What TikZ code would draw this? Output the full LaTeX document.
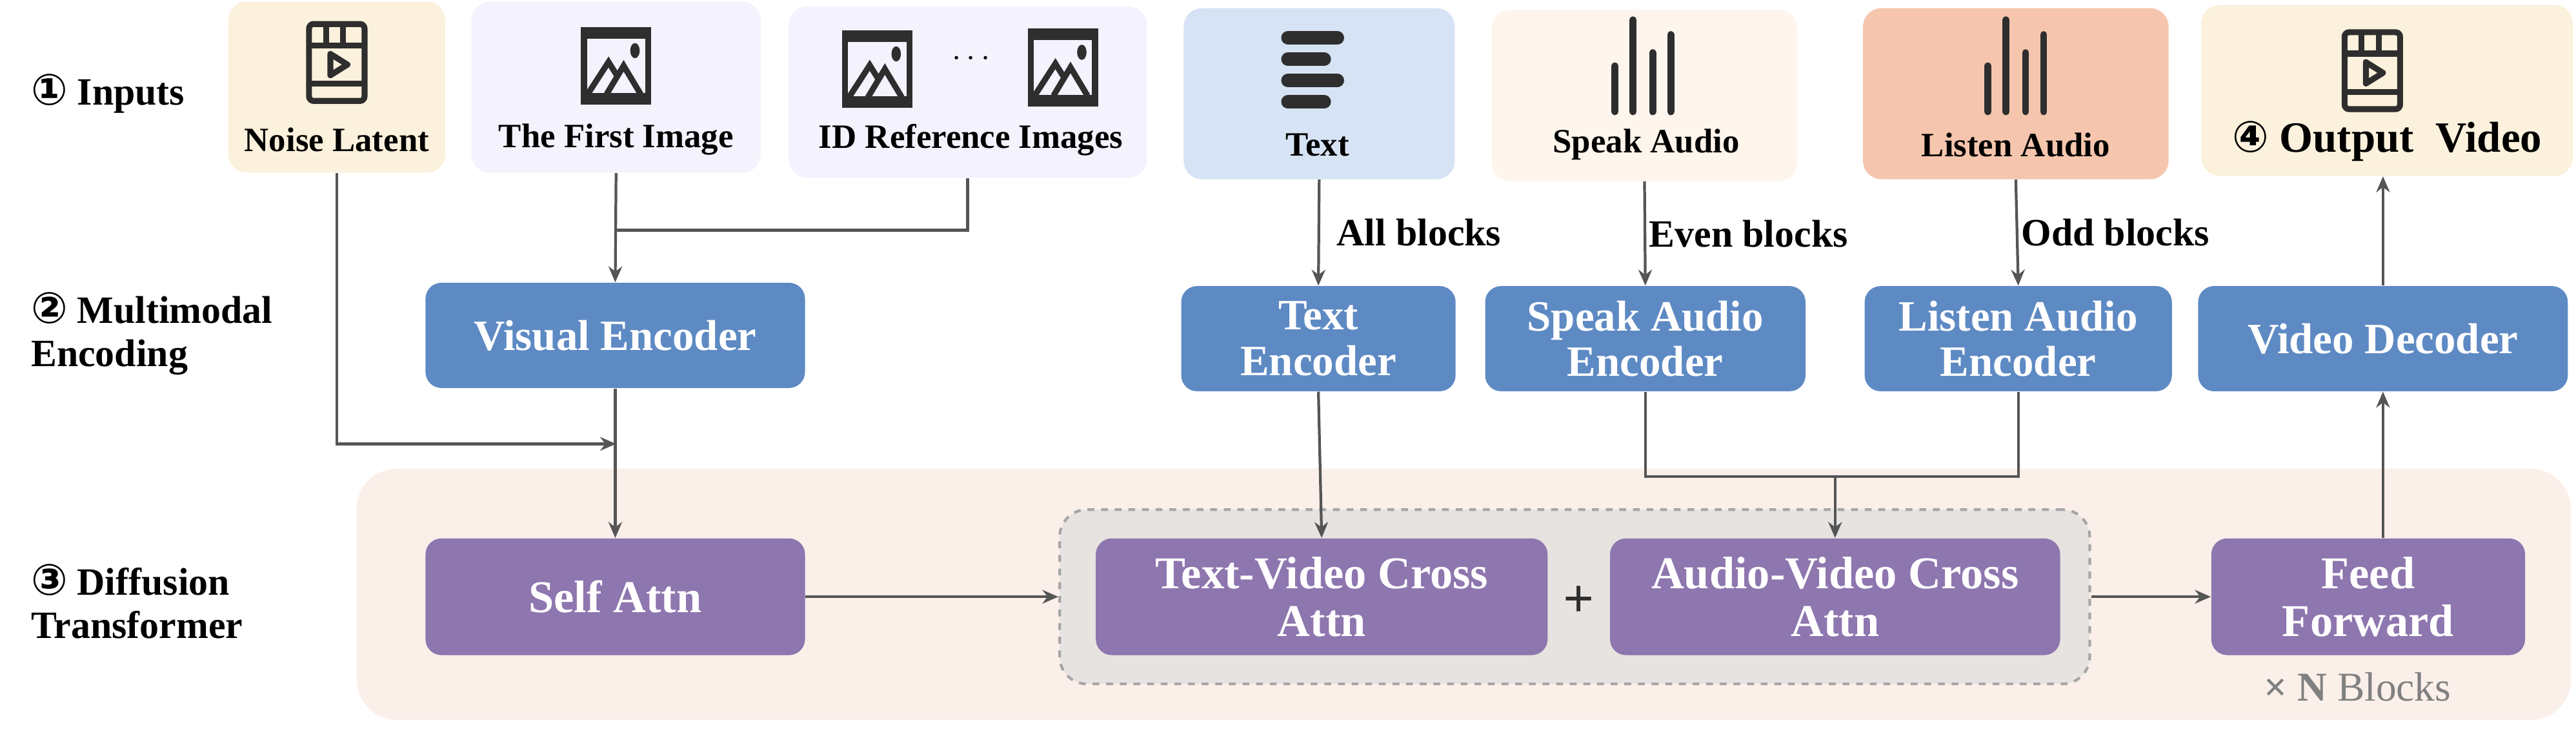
\documentclass[tikz,border=0pt]{standalone}
\usepackage{fontspec}
\setmainfont{Liberation Serif}
\newfontfamily\symfont{DejaVu Sans}
\usetikzlibrary{arrows.meta}
\definecolor{encblue}{HTML}{5E8AC4}
\definecolor{attnpurple}{HTML}{8E76AF}
\definecolor{latentbg}{HTML}{FBF1DC}
\definecolor{imagebg}{HTML}{F3F2FD}
\definecolor{textbg}{HTML}{D6E3F4}
\definecolor{speakbg}{HTML}{FEF5EC}
\definecolor{listenbg}{HTML}{F5C6AD}
\definecolor{ditbg}{HTML}{FBEFEA}
\definecolor{groupbg}{HTML}{E7E3E0}
\definecolor{linegray}{HTML}{555555}
\definecolor{icongray}{HTML}{2E2E2E}
\newcommand{\circnum}[1]{{\symfont\fontsize{19}{19}\selectfont #1}}
\tikzset{
  inbox/.style 2 args={draw=none,fill=#1,rounded corners=8pt,minimum width=#2*0.0254cm,minimum height=104*0.0254cm,inner sep=0pt},
  enc/.style={fill=encblue,rounded corners=7pt,text=white,font=\bfseries\fontsize{19}{20}\selectfont,align=center,minimum height=64*0.0254cm,inner sep=0pt},
  attn/.style={fill=attnpurple,rounded corners=7pt,text=white,font=\bfseries\fontsize{20}{21}\selectfont,align=center,minimum height=71*0.0254cm,inner sep=0pt},
  lbl/.style={font=\bfseries\fontsize{17}{19}\selectfont,align=left,anchor=west},
  inlbl/.style={font=\bfseries\fontsize{15}{17}\selectfont},
  blk/.style={font=\bfseries\fontsize{17}{18}\selectfont,anchor=west},
  conn/.style={draw=linegray,line width=1.2pt},
  arr/.style={conn,-{Stealth[length=7pt,width=6pt]}},
  ico/.style={icongray,line width=2.6pt}
}
% film icon
\newcommand{\filmicon}[1]{%
  \begin{scope}[shift={#1},scale=1.3]
    \draw[ico,rounded corners=2pt] (-13,-18) rectangle (13,18);
    \draw[ico] (-13,-8) -- (13,-8) (-13,10) -- (13,10);
    \draw[ico] (-5,-18) -- (-5,-8) (3,-18) -- (3,-8);
    \draw[ico,line join=round] (-3,-4) -- (5,1) -- (-3,6) -- cycle;
  \end{scope}}
% image icon
\newcommand{\imageicon}[1]{%
  \begin{scope}[shift={#1},scale=1.15]
    \draw[ico] (-17,-19) rectangle (17,19);
    \draw[ico] (-16,-16) -- (16,-16) (-16,16) -- (16,16);
    \draw[ico,line join=miter] (-15,15) -- (-4,-2) -- (1,6) (-5,15) -- (4,0) -- (13,15);
    \fill[icongray] (10,-8) ellipse (2.5 and 4);
  \end{scope}}
\begin{document}
\begin{tikzpicture}[x=0.0254cm,y=-0.0254cm]
  \useasboundingbox (0,0) rectangle (1568,450);

  % stage labels
  \node[lbl] (stI) at (14,57) {\circnum{①} Inputs};
  \node[lbl] (stII) at (14,203) {\circnum{②} Multimodal\\Encoding};
  \node[lbl] (stIII) at (14,366) {\circnum{③} Diffusion\\Transformer};

  % diffusion transformer background
  \fill[ditbg,rounded corners=18pt] (217,285) rectangle (1565,438);
  \node[fill=groupbg,draw=gray!70,dashed,line width=1.2pt,rounded corners=12pt,minimum width=627*0.0254cm,minimum height=106*0.0254cm] (group) at (958.5,363) {};

  % inputs
  \node[inbox={latentbg}{132}] (latent) at (205,53) {};
  \node[inbox={imagebg}{176}] (first) at (375,53) {};
  \node[inbox={imagebg}{218}] (idref) at (589,56) {};
  \node[inbox={textbg}{165}] (text) at (803,57) {};
  \node[inbox={speakbg}{186}] (speak) at (1001,58) {};
  \node[inbox={listenbg}{186}] (listen) at (1227,57) {};
  \node[inbox={latentbg}{226}] (output) at (1453,55) {};

  \filmicon{(205,38)}
  \imageicon{(375,40)}
  \imageicon{(534,42)}
  \imageicon{(647,41)}
  \node[inlbl] (dots) at (591,36) {$\cdots$};
  % text icon
  \foreach \yy/\ww in {23/15,36/11,49/15,62/11}
    \draw[icongray,line width=6pt,line cap=round] (784,\yy) -- (784+\ww+\ww,\yy);
  % audio icons
  \foreach \cx in {1000,1227}{
    \foreach \dx/\top in {-17/40,-6/12,6/32,17/21}
      \draw[icongray,line width=3pt,line cap=round] (\cx+\dx,\top) -- (\cx+\dx,68);
  }
  \filmicon{(1444,43)}

  \node[inlbl] at (205,85) {Noise Latent};
  \node[inlbl] at (375,85) {The First Image};
  \node[inlbl] at (591,85) {ID Reference Images};
  \node[inlbl] at (802,88) {Text};
  \node[inlbl] at (1002,88) {Speak Audio};
  \node[inlbl] at (1227,88) {Listen Audio};
  \node[font=\bfseries\fontsize{19}{20}\selectfont] at (1453,86) {\circnum{④} Output\ \ Video};

  % encoders
  \node[enc,minimum width=231*0.0254cm] (visenc) at (374.5,204) {Visual Encoder};
  \node[enc,minimum width=167*0.0254cm] (textenc) at (802.5,206) {Text\\Encoder};
  \node[enc,minimum width=195*0.0254cm] (speakenc) at (1001.5,206) {Speak Audio\\Encoder};
  \node[enc,minimum width=187*0.0254cm] (listenenc) at (1228.5,206) {Listen Audio\\Encoder};
  \node[enc,minimum width=225*0.0254cm] (viddec) at (1450.5,206) {Video Decoder};

  % attention blocks
  \node[attn,minimum width=231*0.0254cm] (selfattn) at (374.5,363) {Self Attn};
  \node[attn,minimum width=275*0.0254cm] (tvattn) at (804.5,363) {Text-Video Cross\\Attn};
  \node[attn,minimum width=274*0.0254cm] (avattn) at (1117,363) {Audio-Video Cross\\Attn};
  \node[attn,minimum width=191*0.0254cm] (ffn) at (1441.5,363) {Feed\\Forward};
  \node[font=\bfseries\fontsize{24}{24}\selectfont,text=icongray] (plus) at (961,366) {+};
  \node[font=\fontsize{18}{18}\selectfont,text=gray] (nblk) at (1435,418) {\textbf{× N} Blocks};

  % coordinates
  \coordinate (join1) at (375,270);
  \coordinate (join2) at (375,140);
  \coordinate (join3) at (1117,290);

  % connectors
  \draw[arr] (latent.south) |- (join1);
  \draw[conn] (idref.south) |- (join2);
  \draw[arr] (first.south) -- (visenc.north);
  \draw[arr] (visenc.south) -- (selfattn.north);
  \draw[arr] (text.south) -- node[blk,pos=0.5,xshift=4pt] {All blocks} (textenc.north);
  \draw[arr] (speak.south) -- node[blk,pos=0.5,xshift=-2pt] {Even blocks} (speakenc.north);
  \draw[arr] (listen.south) -- node[blk,pos=0.5,xshift=-2pt] {Odd blocks} (listenenc.north);
  \draw[arr] (textenc.south) -- (tvattn.north);
  \draw[conn] (speakenc.south) |- (join3) -| (listenenc.south);
  \draw[arr] (join3) -- (avattn.north);
  \draw[arr] (selfattn.east) -- (group.west);
  \draw[arr] (group.east) -- (ffn.west);
  \draw[arr] (ffn.north -| viddec.south) -- (viddec.south);
  \draw[arr] (viddec.north) -- (viddec.north |- output.south);
\end{tikzpicture}
\end{document}
